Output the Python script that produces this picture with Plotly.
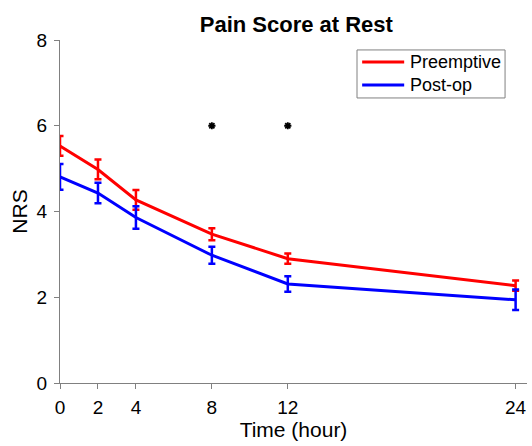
import plotly.graph_objects as go

time_h = [0, 2, 4, 8, 12, 24]
pre_mean = [5.53, 4.98, 4.27, 3.47, 2.90, 2.27]
pre_err = [0.23, 0.23, 0.23, 0.14, 0.12, 0.12]
post_mean = [4.81, 4.43, 3.86, 2.98, 2.31, 1.94]
post_err = [0.30, 0.24, 0.26, 0.20, 0.18, 0.24]
sig_x = [8, 12]
sig_y = [6, 6]
x_ticks = [0, 2, 4, 8, 12, 24]
y_ticks = [0, 2, 4, 6, 8]
series_names = ["Preemptive", "Post-op"]
series_colors = ["#FF0000", "#0000FF"]

FONT = "Liberation Sans, Arial, sans-serif"
fig = go.Figure()
for name, color, mean, err in zip(series_names, series_colors, [pre_mean, post_mean], [pre_err, post_err]):
    fig.add_trace(go.Scatter(
        x=time_h, y=mean, mode="lines", name=name, showlegend=False,
        line=dict(color=color, width=3),
        error_y=dict(type="data", array=err, color=color, thickness=2.5, width=3.5),
    ))
fig.add_trace(go.Scatter(
    x=sig_x, y=sig_y, mode="markers", showlegend=False,
    marker=dict(symbol="asterisk-open", size=6, color="black", line=dict(color="#333333", width=1.8)),
))

# legend drawn in paper coordinates
shapes = [dict(type="rect", xref="paper", yref="paper", x0=0.636, x1=0.953, y0=0.831, y1=0.971,
               line=dict(color="#808080", width=1), fillcolor="white", layer="above")]
annotations = []
for i, (name, color) in enumerate(zip(series_names, series_colors)):
    yy = [0.936, 0.869][i]
    shapes.append(dict(type="line", xref="paper", yref="paper", x0=0.647, x1=0.737, y0=yy, y1=yy,
                       line=dict(color=color, width=3), layer="above"))
    annotations.append(dict(xref="paper", yref="paper", x=0.745, y=yy, xanchor="left", yanchor="middle",
                            text=name, showarrow=False, font=dict(family=FONT, size=18, color="black")))

fig.update_layout(
    width=532, height=446,
    margin=dict(l=60, r=5, t=40, b=63),
    paper_bgcolor="white", plot_bgcolor="white",
    font=dict(family=FONT, size=19, color="black"),
    title=dict(text="<b>Pain Score at Rest</b>", x=0.557, xanchor="center", y=0.945, yanchor="middle",
               font=dict(family=FONT, size=22, color="black")),
    showlegend=False,
    shapes=shapes, annotations=annotations,
    xaxis=dict(range=[0, 24.6], tickvals=x_ticks, ticks="outside", ticklen=5, tickcolor="#808080",
               showline=True, linecolor="#808080", linewidth=1, showgrid=False, zeroline=False,
               ticklabelstandoff=2,
               tickfont=dict(size=19), title=dict(text="Time (hour)", font=dict(size=21), standoff=3)),
    yaxis=dict(range=[0, 8], tickvals=y_ticks, ticks="outside", ticklen=5, tickcolor="#808080",
               showline=True, linecolor="#808080", linewidth=1, showgrid=False, zeroline=False,
               ticklabelstandoff=3,
               tickfont=dict(size=19), title=dict(text="NRS", font=dict(size=21), standoff=3)),
)
fig.write_html("out.html", config={"displayModeBar": False},
               post_script="document.body.style.margin='0';document.body.style.padding='0';")
